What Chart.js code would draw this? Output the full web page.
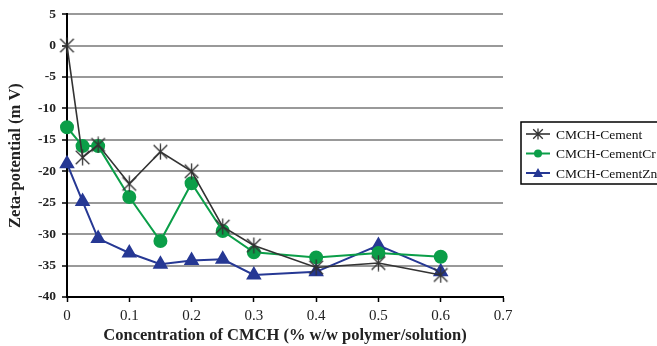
<!DOCTYPE html>
<html>
<head>
<meta charset="utf-8">
<script src="https://cdn.jsdelivr.net/npm/chart.js@4/dist/chart.umd.min.js"></script>
<style>
  html, body { margin: 0; padding: 0; background: #fff; }
  #wrap { width: 657px; height: 346px; }
</style>
</head>
<body>
<div id="wrap"><canvas id="zeta-chart" width="657" height="346"></canvas></div>
<script>
// Data
var concentration = [0, 0.025, 0.05, 0.1, 0.15, 0.2, 0.25, 0.3, 0.4, 0.5, 0.6];
var cement   = [0, -17.8, -15.8, -22.0, -16.9, -20.0, -28.8, -31.8, -35.3, -34.6, -36.5];
var cementCr = [-13.0, -16.0, -16.0, -24.1, -31.1, -21.9, -29.5, -32.9, -33.7, -33.0, -33.6];
var cementZn = [-18.8, -24.8, -30.7, -33.0, -34.8, -34.2, -34.0, -36.5, -36.0, -31.8, -36.0];
var seriesNames = ["CMCH-Cement", "CMCH-CementCr", "CMCH-CementZn"];

var serif = "'Liberation Serif', 'DejaVu Serif', serif";

// asterisk marker: X with a vertical bar
function asterisk(color, size) {
    var c = document.createElement('canvas');
    c.width = size; c.height = size;
    var ctx = c.getContext('2d');
    var m = size / 2, a = size * 0.4;
    ctx.strokeStyle = color;
    ctx.lineWidth = 1.3;
    ctx.beginPath();
    ctx.moveTo(m - a, m - a); ctx.lineTo(m + a, m + a);
    ctx.moveTo(m + a, m - a); ctx.lineTo(m - a, m + a);
    ctx.moveTo(m, 0.5); ctx.lineTo(m, size - 0.5);
    ctx.stroke();
    return c;
}

function toPoints(ys) {
    return concentration.map(function (x, i) { return { x: x, y: ys[i] }; });
}

var legendMarks = ['asterisk', 'circle', 'triangle'];

// legend box drawn like the original (line + marker + label, framed)
var boxLegend = {
    id: 'boxLegend',
    afterDraw: function (chart) {
        var ctx = chart.ctx;
        var left = 521, top = 122, w = 140, h = 62;
        ctx.save();
        ctx.strokeStyle = '#000';
        ctx.lineWidth = 1.5;
        ctx.strokeRect(left, top, w, h);
        ctx.font = '13.5px ' + serif;
        ctx.textBaseline = 'middle';
        chart.data.datasets.forEach(function (ds, i) {
            var y = top + 12 + i * 19.5;
            var cx = left + 17;
            ctx.strokeStyle = ds.borderColor;
            ctx.lineWidth = ds.borderWidth;
            ctx.beginPath();
            ctx.moveTo(left + 5, y); ctx.lineTo(left + 29, y);
            ctx.stroke();
            ctx.fillStyle = ds.borderColor;
            if (legendMarks[i] === 'asterisk') {
                ctx.drawImage(asterisk('#333', 12), cx - 6, y - 6);
            } else if (legendMarks[i] === 'circle') {
                ctx.beginPath();
                ctx.arc(cx, y, 4, 0, Math.PI * 2);
                ctx.fill();
            } else {
                ctx.beginPath();
                ctx.moveTo(cx, y - 5);
                ctx.lineTo(cx + 5, y + 4);
                ctx.lineTo(cx - 5, y + 4);
                ctx.closePath();
                ctx.fill();
            }
            ctx.fillStyle = '#111';
            ctx.fillText(ds.label, left + 35, y + 1);
        });
        ctx.restore();
    }
};

new Chart(document.getElementById("zeta-chart"), {
    type: 'line',
    data: {
        datasets: [
            {
                label: seriesNames[0],
                data: toPoints(cement),
                borderColor: '#333333',
                borderWidth: 1.6,
                pointStyle: asterisk('#333333', 17),
                pointRadius: 8,
                clip: false
            },
            {
                label: seriesNames[1],
                data: toPoints(cementCr),
                borderColor: '#0b9e48',
                borderWidth: 2,
                pointStyle: 'circle',
                pointRadius: 6,
                pointBackgroundColor: '#0b9e48',
                pointBorderColor: '#0b9e48',
                clip: false
            },
            {
                label: seriesNames[2],
                data: toPoints(cementZn),
                borderColor: '#263894',
                borderWidth: 2,
                pointStyle: 'triangle',
                pointRadius: 7,
                pointBackgroundColor: '#263894',
                pointBorderColor: '#263894',
                clip: false
            }
        ]
    },
    options: {
        responsive: false,
        animation: false,
        layout: { padding: { top: 14, right: 154, left: 0, bottom: 0 } },
        plugins: {
            legend: { display: false },
            tooltip: { enabled: false }
        },
        elements: { line: { tension: 0 } },
        scales: {
            x: {
                type: 'linear',
                min: 0,
                max: 0.7,
                afterFit: function (s) { s.height = 49; },
                ticks: {
                    stepSize: 0.1,
                    color: '#222',
                    padding: 5,
                    font: { family: serif, size: 15 }
                },
                grid: {
                    drawOnChartArea: false,
                    drawTicks: true,
                    tickLength: 5,
                    tickColor: '#000',
                    tickWidth: 1.5
                },
                border: { color: '#000', width: 2 },
                title: {
                    display: true,
                    text: 'Concentration of CMCH (% w/w polymer/solution)',
                    color: '#222',
                    font: { family: serif, size: 16.5, weight: 'bold' },
                    padding: { top: 2, bottom: 0 }
                }
            },
            y: {
                min: -40,
                max: 5,
                afterFit: function (s) { s.width = 67; },
                ticks: {
                    stepSize: 5,
                    color: '#222',
                    padding: 6,
                    font: { family: serif, size: 13.5, weight: 'bold' }
                },
                grid: {
                    color: '#999999',
                    lineWidth: 2,
                    tickLength: 5,
                    tickColor: '#000',
                    tickWidth: 1.5
                },
                border: { color: '#000', width: 2 },
                title: {
                    display: true,
                    text: 'Zeta-potential (m V)',
                    color: '#222',
                    font: { family: serif, size: 16.5, weight: 'bold' },
                    padding: { top: 6, bottom: 0 }
                }
            }
        }
    },
    plugins: [boxLegend]
});
</script>
</body>
</html>
